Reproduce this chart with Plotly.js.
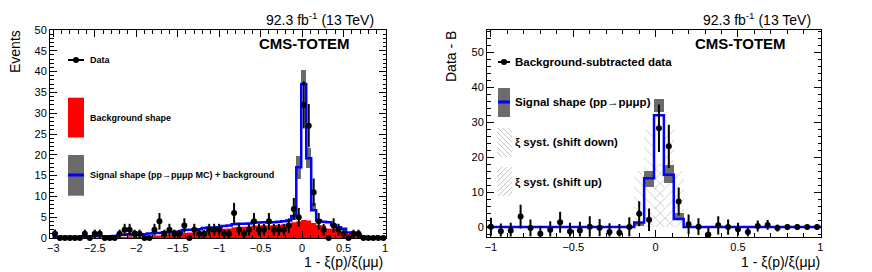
<!DOCTYPE html>
<html>
<head>
<meta charset="utf-8">
<script src="https://cdn.plot.ly/plotly-3.0.1.min.js"></script>
<style>html,body{margin:0;padding:0;background:#fff}#chart{width:872px;height:272px}</style>
</head>
<body>
<div id="chart"></div>
<script>
// ---------------- data ----------------
const binWidth = 0.06;

const leftCenters = [-2.98,-2.92,-2.86,-2.80,-2.74,-2.68,-2.62,-2.56,-2.50,-2.44,-2.38,-2.32,-2.26,-2.20,-2.14,-2.08,-2.02,-1.96,-1.90,-1.84,-1.78,-1.72,-1.66,-1.60,-1.54,-1.48,-1.42,-1.36,-1.30,-1.24,-1.18,-1.12,-1.06,-1.00,-0.94,-0.88,-0.82,-0.76,-0.70,-0.64,-0.58,-0.52,-0.46,-0.40,-0.34,-0.28,-0.22,-0.16,-0.10,-0.04,0.02,0.08,0.14,0.20,0.26,0.32,0.38,0.44,0.50,0.56,0.62,0.68,0.74,0.80,0.86,0.92,0.98];
const leftData = [1,0,0,0,0,0,1,0,1,1, 0,0,0,1,2,2,1,1,0,0, 2,4,1,2,1,1,3,0,2,1, 1,2,2,2,1,1,6,2,1,2, 4,2,2,4,2,2,2,3,7,5, 32,27,11,4,2,0,3,2,1,0, 1,1,0,0,0,0,0];
const leftBkg = [0,0,0,0,0,0,0,0,0,0,0,0,0, 0.3,0.3,0.4,0.3,0.3,0.4, 0.5,0.6,0.6, 0.8,0.8,0.9,0.9, 1.2,1.3,1.3,1.4, 1.7,1.8,1.8,1.9, 2.2,2.3, 2.6,2.7,2.7,2.8, 3.0,3.0,3.1,3.0,3.1,3.2,3.3, 3.5, 3.8,4.0, 4.3,4.2, 3.6, 3.1,3.0, 2.3,2.2, 1.6,1.5, 1.1,1.0, 0.6, 0,0,0,0,0];
const leftSigBkg = [0.3,0.3,0.3,0.3,0.3,0.3,0.4,0.4,0.4,0.4,0.4,0.4,0.5, 0.8,0.8,0.9,0.8,0.8,0.9, 1.1,1.2,1.2, 1.4,1.4,1.5,1.5, 1.9,2.0,2.0,2.1, 2.4,2.5,2.5,2.6, 2.9,3.0, 3.3,3.4,3.4,3.5, 3.7,3.7,3.8,3.7,3.8,3.9,4.0, 4.2, 5.3,17.0, 37.0,19.2, 6.7, 4.2,3.9, 3.8,3.1, 2.6,2.2, 1.3,1.2, 0.7, 0.3,0.2,0.2,0.2,0.2];
const leftBandCenters = [-0.10,-0.04,0.02,0.08,0.14];
const leftBandLow  = [4.3,14.3,37.0,16.8,6.7];
const leftBandHigh = [5.3,19.6,40.5,21.7,8.4];

const rightCenters = [-1.00,-0.94,-0.88,-0.82,-0.76,-0.70,-0.64,-0.58,-0.52,-0.46,-0.40,-0.34,-0.28,-0.22,-0.16,-0.10,-0.04,0.02,0.08,0.14,0.20,0.26,0.32,0.38,0.44,0.50,0.56,0.62,0.68,0.74,0.80,0.86,0.92,0.98];
const rightData = [0.1,-1.2,-1.0,3.0,-0.3,-1.9,-0.8,1.4,-1.3,-1.0, 0.1,-0.2,-1.4,-1.6,0.0,3.8,2.1,28.3,23.1,7.3, 0.8,0.1,-2.1,0.5,0.0,-0.6,-1.4,0.3,0.6,-0.3, 0.0,0.0,0.0,0.0];
const rightErr  = [2.6,2.2,2.2,3.4,2.5,2.2,2.5,3.0,2.5,2.5, 3.0,2.5,2.5,2.5,2.8,3.6,3.2,6.8,6.2,4.0, 2.8,2.4,1.8,2.6,2.2,1.8,1.4,1.6,1.4,1.0, 0.8,0.8,0.8,0.8];
const rightSig  = [0,0,0,0,0,0,0,0,0,0, 0,0,0,0,0,1.3,14.0,32.0,15.0,2.3, 0,0,0,0,0,0,0,0,0,0, 0,0,0,0];
const rightBandCenters = [-0.10,-0.04,0.02,0.08,0.14];
const rightBandLow  = [0.2,11.6,32.9,12.6,2.3];
const rightBandHigh = [1.3,16.1,36.6,17.7,4.0];
const shiftDown = [0,0,0,0,0,0,0,0,0,0, 0,0,0,0,2,16,28,18,3,0, 0,0,0,0,0,0,0,0,0,0, 0,0,0,0];
const shiftUp   = [0,0,0,0,0,0,0,0,0,0, 0,0,0,0,0,0,3,18,28,16, 2,0,0,0,0,0,0,0,0,0, 0,0,0,0];

const lumiText = "92.3 fb<sup>-1</sup> (13 TeV)";
const expText = "<b>CMS-TOTEM</b>";
const xTitle = "1 - ξ(p)/ξ(μμ)";
const leftYTitle = "Events";
const rightYTitle = "Data - B";
const leftLegend = ["Data", "Background shape", "Signal shape (pp→pμμp MC) + background"];
const rightLegend = ["Background-subtracted data", "Signal shape (pp→pμμp)", "ξ syst. (shift down)", "ξ syst. (shift up)"];

// ---------------- helpers ----------------
const W = 872, H = 272;
const FONT = "Liberation Sans, Arial, Helvetica, sans-serif";
const px = x => x / W;
const py = y => 1 - y / H;

function steps(centers, vals) {
  const xs = [], ys = [];
  centers.forEach((c, i) => { xs.push(c - binWidth / 2); ys.push(vals[i]); });
  xs.push(centers[centers.length - 1] + binWidth / 2);
  ys.push(vals[vals.length - 1]);
  return {xs, ys};
}
function diff(a, b) { return a.map((v, i) => v - b[i]); }

const bkgStep = steps(leftCenters, leftBkg);
const sbStep = steps(leftCenters, leftSigBkg);
const sigStep = steps(rightCenters, rightSig);

const traces = [
  // left panel
  {type: 'bar', x: leftBandCenters, base: leftBandLow, y: diff(leftBandHigh, leftBandLow), width: binWidth,
   marker: {color: '#6b6b6b', line: {width: 0}}, xaxis: 'x', yaxis: 'y', hoverinfo: 'skip'},
  {type: 'scatter', mode: 'lines', x: bkgStep.xs, y: bkgStep.ys, line: {shape: 'hv', width: 0, color: '#ff0000'},
   fill: 'tozeroy', fillcolor: '#ff0000', xaxis: 'x', yaxis: 'y', hoverinfo: 'skip'},
  {type: 'scatter', mode: 'lines', x: sbStep.xs, y: sbStep.ys, line: {shape: 'hv', width: 2.5, color: '#0000ff'},
   xaxis: 'x', yaxis: 'y', hoverinfo: 'skip'},
  {type: 'scatter', mode: 'markers', x: leftCenters, y: leftData, cliponaxis: false,
   marker: {color: '#000', size: 6},
   error_y: {type: 'data', array: leftData.map(v => Math.sqrt(v)), thickness: 2, width: 0, color: '#000'},
   xaxis: 'x', yaxis: 'y'},
  // right panel
  {type: 'bar', x: rightCenters, y: shiftDown, width: binWidth,
   marker: {color: 'rgba(0,0,0,0)', line: {width: 0},
            pattern: {shape: '\\', fgcolor: '#c4c4c4', bgcolor: 'rgba(0,0,0,0)', size: 7, solidity: 0.12, fillmode: 'replace'}},
   xaxis: 'x2', yaxis: 'y2', hoverinfo: 'skip'},
  {type: 'bar', x: rightCenters, y: shiftUp, width: binWidth,
   marker: {color: 'rgba(0,0,0,0)', line: {width: 0},
            pattern: {shape: '/', fgcolor: '#c4c4c4', bgcolor: 'rgba(0,0,0,0)', size: 7, solidity: 0.12, fillmode: 'replace'}},
   xaxis: 'x2', yaxis: 'y2', hoverinfo: 'skip'},
  {type: 'bar', x: rightBandCenters, base: rightBandLow, y: diff(rightBandHigh, rightBandLow), width: binWidth,
   marker: {color: '#6b6b6b', line: {width: 0}}, xaxis: 'x2', yaxis: 'y2', hoverinfo: 'skip'},
  {type: 'scatter', mode: 'lines', x: sigStep.xs, y: sigStep.ys, line: {shape: 'hv', width: 2.5, color: '#0000ff'},
   xaxis: 'x2', yaxis: 'y2', hoverinfo: 'skip'},
  {type: 'scatter', mode: 'markers', x: rightCenters, y: rightData, cliponaxis: false,
   marker: {color: '#000', size: 6},
   error_y: {type: 'data', array: rightErr, thickness: 2, width: 0, color: '#000'},
   xaxis: 'x2', yaxis: 'y2'}
];

function axisBase(extra) {
  return Object.assign({
    showgrid: false, zeroline: false, showline: true, linecolor: '#000', linewidth: 1,
    mirror: 'allticks', ticks: 'inside', ticklen: 7, tickwidth: 1, tickcolor: '#000',
    tickfont: {family: FONT, size: 11, color: '#000'}, fixedrange: true,
  }, extra);
}

const layout = {
  width: W, height: H, margin: {l: 0, r: 0, t: 0, b: 0},
  paper_bgcolor: '#fff', plot_bgcolor: 'rgba(0,0,0,0)', showlegend: false, barmode: 'overlay', bargap: 0,
  xaxis: axisBase({domain: [px(50), px(386)], range: [-3.04, 1.012], anchor: 'y', tick0: 0, dtick: 0.5,
    minor: {ticks: 'inside', ticklen: 3.5, tick0: 0, dtick: 0.1, tickcolor: '#000'}}),
  yaxis: axisBase({domain: [py(238), py(30)], range: [0, 50], anchor: 'x', tick0: 0, dtick: 5,
    minor: {ticks: 'inside', ticklen: 3.5, tick0: 0, dtick: 1, tickcolor: '#000'}}),
  xaxis2: axisBase({domain: [px(487), px(821)], range: [-1.024, 1.004], anchor: 'y2', tick0: 0, dtick: 0.5,
    minor: {ticks: 'inside', ticklen: 3.5, tick0: 0, dtick: 0.1, tickcolor: '#000'}}),
  yaxis2: axisBase({domain: [py(236.5), py(30)], range: [-2.7, 56.4], anchor: 'x2', tick0: 0, dtick: 10,
    minor: {ticks: 'inside', ticklen: 3.5, tick0: 0, dtick: 2, tickcolor: '#000'}}),
  annotations: [],
  shapes: []
};

function ann(text, x, y, opts) {
  layout.annotations.push(Object.assign({
    text: text, xref: 'paper', yref: 'paper', x: px(x), y: py(y), showarrow: false,
    xanchor: 'left', yanchor: 'middle', font: {family: FONT, size: 14, color: '#000'}
  }, opts || {}));
}
function rect(x0, y0, x1, y1, color) {
  layout.shapes.push({type: 'rect', xref: 'paper', yref: 'paper', x0: px(x0), x1: px(x1), y0: py(y1), y1: py(y0),
    fillcolor: color, line: {width: 0}, layer: 'above'});
}
function line(x0, y0, x1, y1, color, w) {
  layout.shapes.push({type: 'line', xref: 'paper', yref: 'paper', x0: px(x0), x1: px(x1), y0: py(y0), y1: py(y1),
    line: {color: color, width: w}, layer: 'above'});
}
function dot(x, y, r) {
  layout.shapes.push({type: 'circle', xref: 'paper', yref: 'paper', x0: px(x - r), x1: px(x + r), y0: py(y + r), y1: py(y - r),
    fillcolor: '#000', line: {width: 0}, layer: 'above'});
}
function hatch(x0, y0, x1, y1, dir, gap, color) {
  const w = x1 - x0, h = y1 - y0;
  for (let t = -h; t < w; t += gap) {
    let ax = t, ay = 0, bx = t + h, by = h;
    if (ax < 0) { ay = -ax; ax = 0; }
    if (bx > w) { by = h - (bx - w); bx = w; }
    if (by <= ay) continue;
    if (dir > 0) line(x0 + ax, y1 - ay, x0 + bx, y1 - by, color, 1);
    else line(x0 + ax, y0 + ay, x0 + bx, y0 + by, color, 1);
  }
}

// titles / labels
ann(leftYTitle, 14.5, 51.5, {textangle: -90, xanchor: 'center', yanchor: 'middle'});
ann(rightYTitle, 451, 57, {textangle: -90, xanchor: 'center', yanchor: 'middle'});
ann(xTitle, 385, 262, {xanchor: 'right'});
ann(xTitle, 822, 262, {xanchor: 'right'});
ann(lumiText, 376, 19, {xanchor: 'right'});
ann(lumiText, 813, 19, {xanchor: 'right'});
ann(expText, 352, 43, {xanchor: 'right', font: {family: FONT, size: 15, color: '#000'}});
ann(expText, 788, 43, {xanchor: 'right', font: {family: FONT, size: 15, color: '#000'}});

// left legend
const lf = {family: FONT, size: 9, color: '#000'};
line(68, 60, 84, 60, '#000', 2); dot(76, 60, 3);
ann('<b>' + leftLegend[0] + '</b>', 88, 60, {font: lf});
rect(68, 97.7, 84, 137.5, '#ff0000');
ann('<b>' + leftLegend[1] + '</b>', 88, 117.5, {font: lf});
rect(68, 155, 84, 195.7, '#6b6b6b');
line(68, 175, 84, 175, '#0000ff', 3);
ann('<b>' + leftLegend[2] + '</b>', 88, 175, {font: lf});

// right legend
const rf = {family: FONT, size: 11.5, color: '#000'};
line(498, 62, 510, 62, '#000', 2); dot(504, 62, 3);
ann('<b>' + rightLegend[0] + '</b>', 513, 62, {font: rf});
rect(498, 88, 510, 117, '#6b6b6b');
line(498, 102, 510, 102, '#0000ff', 3);
ann('<b>' + rightLegend[1] + '</b>', 513, 102, {font: rf});
hatch(497, 128, 512, 157, -1, 5, '#c4c4c4');
ann('<b>' + rightLegend[2] + '</b>', 513, 142.7, {font: rf});
hatch(497, 167, 512, 196, 1, 5, '#c4c4c4');
ann('<b>' + rightLegend[3] + '</b>', 513, 182.3, {font: rf});

Plotly.newPlot('chart', traces, layout, {staticPlot: true, displayModeBar: false});
</script>
</body>
</html>
